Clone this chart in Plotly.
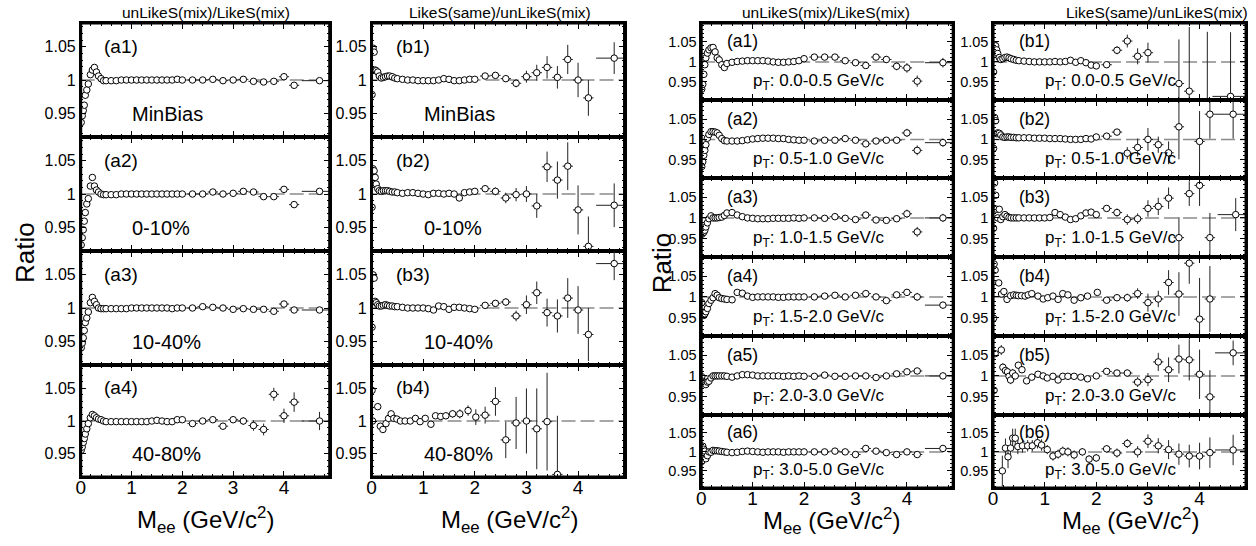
import plotly.graph_objects as go

W, H = 1256, 546
FONT = "Liberation Sans, Arial, sans-serif"

# ---------------- common mass binning (GeV/c^2) ----------------
X_LO = [0.01, 0.03, 0.05, 0.07, 0.09, 0.12, 0.15, 0.19, 0.23, 0.27, 0.31, 0.35, 0.40, 0.45]
X_MID = [0.5, 0.6, 0.7, 0.8, 0.9, 1.0, 1.1, 1.2, 1.3, 1.4, 1.5, 1.6, 1.7, 1.8, 1.9, 2.0]
X_HI = [2.2, 2.4, 2.6, 2.8, 3.0, 3.2, 3.4, 3.6, 3.8, 4.0, 4.2, 4.7]
MASS = X_LO + X_MID + X_HI

# ---------------- left group: centrality ----------------
CENT_LABELS = ["MinBias", "0-10%", "10-40%", "40-80%"]

L_A1 = [0.936, 0.946, 0.954, 0.962, 0.977, 0.985, 0.994, 1.008, 1.015, 1.019, 1.012, 1.006, 1.002, 0.999,
        0.999, 0.999, 0.999, 1.0, 1.0, 1.0, 1.0, 1.0, 1.0, 1.0, 1.0, 1.0, 1.0, 1.0, 1.001, 1.0,
        1.0, 1.0, 1.001, 0.999, 1.0, 1.001, 0.998, 0.997, 0.998, 1.005, 0.992, 0.999]
L_A1_ERR = [0.002, 0.002, 0.002, 0.002, 0.002, 0.002, 0.003, 0.003, 0.003, 0.004, 0.004, 0.003]

L_A2 = [0.923, 0.934, 0.946, 0.959, 0.972, 0.985, 0.993, 1.012, 1.025, 1.012, 1.006, 1.003, 1.0, 0.999,
        0.999, 0.999, 0.999, 1.0, 1.0, 1.0, 1.0, 1.0, 1.0, 1.0, 1.0, 1.0, 1.0, 1.0, 1.0, 1.0,
        1.0, 1.0, 1.003, 1.0, 1.001, 1.004, 1.003, 0.996, 0.996, 1.007, 0.984, 1.004]
L_A2_ERR = [0.002, 0.002, 0.002, 0.002, 0.002, 0.003, 0.003, 0.003, 0.003, 0.004, 0.004, 0.003]

L_A3 = [0.94, 0.947, 0.955, 0.966, 0.978, 0.985, 0.994, 1.008, 1.016, 1.01, 1.005, 1.0, 0.999, 0.999,
        0.999, 0.999, 0.999, 0.999, 0.999, 1.0, 1.0, 1.0, 1.0, 1.0, 1.0, 1.0, 1.0, 0.999, 1.0, 1.0,
        1.0, 1.002, 1.001, 1.0, 0.998, 0.999, 0.998, 0.998, 0.995, 1.006, 0.997, 0.997]
L_A3_ERR = [0.002, 0.002, 0.002, 0.002, 0.002, 0.002, 0.003, 0.003, 0.003, 0.004, 0.004, 0.003]

L_A4 = [0.955, 0.96, 0.967, 0.973, 0.98, 0.988, 0.996, 1.005, 1.01, 1.008, 1.005, 1.003, 1.002, 1.0,
        0.999, 0.999, 0.999, 0.999, 0.999, 0.999, 0.999, 0.999, 0.999, 1.0, 1.001, 1.0, 0.999, 0.999, 1.002, 1.002,
        0.996, 1.0, 1.002, 0.992, 1.002, 1.0, 0.993, 0.987, 1.041, 1.008, 1.029, 1.0]
L_A4_ERR = [0.003, 0.003, 0.004, 0.004, 0.005, 0.006, 0.008, 0.009, 0.01, 0.011, 0.015, 0.014]

L_B1 = [0.978, 1.048, 1.042, 1.015, 1.014, 1.012, 1.006, 1.003, 1.004, 1.005, 1.006, 1.006, 1.005, 1.003,
        1.002, 1.001, 1.0, 1.0, 0.999, 0.999, 0.999, 0.999, 1.0, 1.002, 1.001, 0.999, 0.999, 1.0, 1.001, 1.001,
        1.006, 1.007, 1.002, 0.995, 1.005, 1.011, 1.019, 1.004, 1.031, 1.0, 0.973, 1.033]
L_B1_ERR = [0.003, 0.004, 0.005, 0.006, 0.009, 0.012, 0.017, 0.017, 0.022, 0.026, 0.027, 0.024]

L_B2 = [0.98, 1.038, 1.035, 1.025, 1.015, 1.008, 1.005, 1.004, 1.005, 1.005, 1.005, 1.004, 1.003, 1.003,
        1.002, 1.001, 1.002, 1.002, 1.001, 1.0, 0.999, 1.001, 1.001, 1.0, 1.001, 1.0, 0.994, 1.002, 1.003, 1.004,
        1.008, 1.004, 0.994, 0.999, 1.0, 0.982, 1.041, 1.021, 1.042, 0.976, 0.921, 0.983]
L_B2_ERR = [0.005, 0.006, 0.008, 0.01, 0.012, 0.018, 0.023, 0.028, 0.036, 0.037, 0.045, 0.033]

L_B3 = [0.971, 1.05, 1.045, 1.01, 1.008, 1.005, 1.003, 1.003, 1.004, 1.005, 1.004, 1.003, 1.003, 1.002,
        1.002, 1.001, 1.0, 1.0, 1.0, 1.0, 0.999, 0.997, 1.003, 1.002, 0.998, 1.001, 1.001, 1.0, 0.999, 0.998,
        1.004, 1.007, 1.009, 0.988, 1.005, 1.023, 0.993, 0.988, 1.015, 0.997, 0.96, 1.067]
L_B3_ERR = [0.004, 0.005, 0.006, 0.008, 0.014, 0.017, 0.021, 0.025, 0.03, 0.036, 0.04, 0.025]

L_B4_X = [0.01, 0.02, 0.12, 0.17, 0.22, 0.28, 0.33, 0.38, 0.43, 0.49, 0.56, 0.65, 0.75, 0.85, 0.94, 1.04,
          1.15, 1.24, 1.34, 1.44, 1.57, 1.71, 1.87, 2.02, 2.2, 2.4, 2.6, 2.8, 3.0, 3.2, 3.4, 3.6]
L_B4 = [1.047, 1.0, 1.022, 0.992, 0.987, 0.996, 1.004, 1.011, 1.004, 1.003, 1.0, 1.0, 1.0, 1.004, 0.999, 1.004,
        0.995, 1.008, 1.007, 1.008, 1.011, 1.011, 1.016, 1.006, 1.009, 1.03, 0.971, 0.997, 1.0, 0.988, 0.999, 0.918]
L_B4_ERR = [0.003, 0.003, 0.003, 0.003, 0.003, 0.003, 0.003, 0.003, 0.003, 0.003, 0.003, 0.003, 0.003, 0.003,
            0.003, 0.003, 0.003, 0.003, 0.004, 0.005, 0.006, 0.007, 0.008, 0.012, 0.013, 0.022, 0.028, 0.04,
            0.05, 0.062, 0.075, 0.09]

# ---------------- right group: pT bins ----------------
PT_BINS = ["0.0-0.5", "0.5-1.0", "1.0-1.5", "1.5-2.0", "2.0-3.0", "3.0-5.0"]

R_A1 = [0.932, 0.944, 0.969, 0.993, 1.01, 1.022, 1.03, 1.035, 1.036, 1.025, 1.01, 1.005, 0.993, 0.986,
        0.996, 0.999, 1.001, 1.002, 1.003, 1.003, 1.003, 1.003, 1.002, 1.0, 0.999, 0.999, 1.0, 1.001, 1.003, 1.008,
        1.012, 1.012, 1.012, 1.003, 0.998, 0.991, 1.012, 1.006, 0.989, 0.985, 0.952, 0.998]
R_A1_ERR = [0.003, 0.003, 0.004, 0.004, 0.004, 0.005, 0.007, 0.009, 0.01, 0.012, 0.014, 0.012]

R_A2 = [0.933, 0.945, 0.961, 0.973, 0.987, 1.003, 1.012, 1.019, 1.019, 1.018, 1.016, 1.01, 1.002, 0.997,
        0.996, 0.996, 0.996, 0.997, 0.999, 1.001, 1.002, 1.003, 1.003, 1.003, 1.002, 1.002, 1.0, 0.999, 0.998, 0.998,
        0.996, 0.998, 0.998, 1.002, 0.998, 0.989, 0.996, 0.998, 0.998, 1.016, 0.973, 0.992]
R_A2_ERR = [0.003, 0.003, 0.004, 0.004, 0.004, 0.005, 0.006, 0.007, 0.008, 0.01, 0.012, 0.01]

R_A3 = [0.96, 0.963, 0.965, 0.97, 0.978, 0.988, 0.998, 1.005, 1.0, 1.0, 1.0, 1.001, 1.002, 1.006,
        1.012, 1.013, 1.007, 1.003, 1.0, 0.999, 0.998, 0.998, 0.998, 0.999, 0.999, 0.999, 0.999, 1.0, 0.999, 1.0,
        1.0, 0.999, 1.003, 0.999, 0.996, 1.007, 0.995, 0.994, 0.998, 1.01, 0.966, 1.0]
R_A3_ERR = [0.003, 0.003, 0.004, 0.004, 0.004, 0.005, 0.006, 0.007, 0.008, 0.01, 0.012, 0.01]

R_A4 = [0.986, 0.962, 0.955, 0.959, 0.964, 0.972, 0.984, 0.992, 0.998, 1.008, 1.004, 0.998, 0.996, 0.995,
        0.994, 0.993, 1.011, 1.009, 1.002, 0.999, 1.0, 1.0, 1.0, 1.0, 0.999, 0.999, 1.0, 1.0, 1.0, 1.0,
        1.0, 1.002, 1.004, 1.0, 1.004, 1.008, 1.0, 0.991, 1.005, 1.011, 1.0, 0.98]
R_A4_ERR = [0.003, 0.003, 0.003, 0.004, 0.004, 0.004, 0.005, 0.006, 0.006, 0.008, 0.01, 0.008]

R_A5 = [0.998, 0.987, 0.983, 0.984, 0.979, 0.985, 0.987, 0.995, 1.0, 1.0, 1.0, 1.0, 1.0, 1.0,
        0.999, 0.997, 1.0, 1.003, 1.003, 1.002, 1.0, 1.0, 1.0, 1.0, 1.0, 0.999, 1.0, 0.999, 1.0, 0.999,
        0.999, 1.002, 0.999, 0.999, 1.0, 1.0, 0.996, 1.0, 1.005, 1.01, 1.012, 1.0]
R_A5_ERR = [0.003, 0.003, 0.003, 0.003, 0.004, 0.004, 0.004, 0.005, 0.005, 0.006, 0.007, 0.006]

R_A6 = [0.975, 1.015, 1.007, 1.002, 0.982, 0.99, 1.0, 0.999, 1.004, 1.003, 1.003, 1.002, 1.001, 1.0,
        0.999, 0.998, 0.999, 1.001, 1.002, 1.001, 1.0, 0.999, 1.0, 1.0, 1.0, 0.999, 1.0, 1.0, 1.0, 1.0,
        1.0, 1.0, 1.002, 1.0, 0.993, 1.009, 1.002, 0.998, 0.993, 1.0, 0.993, 1.009]
R_A6_ERR = [0.003, 0.003, 0.003, 0.003, 0.004, 0.004, 0.004, 0.005, 0.005, 0.006, 0.007, 0.006]

R_B1_XHI = [2.2, 2.4, 2.6, 2.8, 3.0, 3.6, 3.8, 4.15, 4.6]
R_B1 = [0.975, 1.042, 1.04, 1.03, 1.021, 1.011, 1.006, 1.008, 1.011, 1.012, 1.01, 1.008, 1.006, 1.004,
        1.003, 1.002, 1.001, 1.0, 1.0, 1.0, 1.0, 1.001, 1.0, 1.001, 1.004, 0.999, 1.003, 0.998, 0.992, 0.99,
        0.993, 1.029, 1.052, 1.014, 1.023, 0.946, 0.927, 0.85, 0.914]
R_B1_ERR = [0.005, 0.01, 0.016, 0.02, 0.025, 0.11, 0.16, 0.225, 0.16]

R_B2_XHI = [2.2, 2.4, 2.6, 2.8, 3.0, 3.2, 3.4, 3.6, 4.0, 4.2, 4.65]
R_B2 = [0.978, 1.054, 1.046, 1.014, 1.016, 1.015, 1.011, 1.006, 1.005, 1.006, 1.006, 1.005, 1.005, 1.004,
        1.004, 1.004, 1.004, 1.003, 1.003, 1.003, 1.002, 1.002, 1.002, 1.001, 1.0, 1.0, 1.0, 1.002, 1.001, 1.006,
        1.008, 1.018, 0.966, 0.98, 1.0, 0.987, 0.967, 1.031, 0.995, 1.062, 1.062]
R_B2_ERR = [0.005, 0.007, 0.015, 0.022, 0.028, 0.02, 0.028, 0.08, 0.075, 0.06, 0.06]

R_B3 = [0.975, 1.085, 1.055, 1.021, 1.0, 1.021, 0.996, 1.003, 1.008, 1.004, 1.001, 1.0, 1.0, 1.0,
        1.0, 1.0, 1.0, 1.0, 1.0, 1.0, 1.001, 1.013, 1.008, 1.002, 0.996, 0.998, 1.005, 1.012, 1.014, 1.008,
        1.023, 1.013, 0.996, 0.998, 1.023, 1.028, 1.048, 0.952, 1.059, 1.079, 0.952, 1.008]
R_B3_ERR = [0.006, 0.01, 0.013, 0.013, 0.02, 0.021, 0.026, 0.05, 0.03, 0.05, 0.06, 0.04]

R_B4_X = [0.01, 0.02, 0.04, 0.11, 0.165, 0.21, 0.27, 0.34, 0.4, 0.45, 0.49, 0.55, 0.62, 0.68, 0.75, 0.87,
          0.97, 1.06, 1.16, 1.26, 1.35, 1.45, 1.57, 1.7, 1.83, 2.02,
          2.2, 2.4, 2.6, 2.8, 3.0, 3.2, 3.4, 3.6, 3.8, 4.0, 4.2]
R_B4 = [0.948, 1.08, 1.065, 1.034, 1.007, 1.013, 0.994, 1.003, 1.005, 1.004, 1.003, 1.003, 1.002, 1.005,
        1.008, 1.002, 0.995, 0.998, 1.002, 0.994, 1.008, 1.005, 0.992, 0.998, 1.002, 1.011,
        0.992, 0.998, 0.998, 1.008, 0.986, 0.995, 1.035, 1.007, 1.082, 0.946, 0.995]
R_B4_ERR = [0.004, 0.004, 0.004, 0.004, 0.004, 0.004, 0.004, 0.004, 0.004, 0.004, 0.004, 0.004, 0.004,
            0.004, 0.004, 0.004, 0.004, 0.004, 0.004, 0.004, 0.004, 0.004, 0.004, 0.004, 0.004, 0.005,
            0.006, 0.008, 0.01, 0.013, 0.022, 0.02, 0.03, 0.053, 0.05, 0.1, 0.08]

R_B5_X = [0.02, 0.04, 0.16, 0.19, 0.24, 0.28, 0.31, 0.34, 0.38, 0.43, 0.49, 0.56, 0.65, 0.75, 0.87, 0.97,
          1.05, 1.16, 1.26, 1.35, 1.45, 1.57, 1.7, 1.83, 2.0,
          2.2, 2.4, 2.6, 2.8, 3.0, 3.2, 3.4, 3.6, 3.8, 4.0, 4.2, 4.65]
R_B5 = [0.965, 1.054, 1.063, 1.021, 1.013, 1.01, 0.999, 0.99, 1.007, 1.0, 1.026, 1.015, 0.988, 0.997,
        1.004, 1.0, 0.995, 0.999, 0.99, 0.999, 0.999, 0.999, 0.997, 0.993, 1.0,
        1.011, 1.007, 1.007, 0.985, 0.991, 1.034, 1.015, 1.041, 1.039, 1.004, 0.949, 1.056]
R_B5_ERR = [0.005, 0.005, 0.012, 0.01, 0.01, 0.01, 0.01, 0.01, 0.01, 0.008, 0.008, 0.006, 0.005, 0.004,
            0.004, 0.004, 0.004, 0.004, 0.004, 0.004, 0.004, 0.004, 0.004, 0.004, 0.004,
            0.005, 0.006, 0.008, 0.012, 0.016, 0.022, 0.03, 0.035, 0.05, 0.06, 0.065, 0.03]

R_B6_X = [0.18, 0.24, 0.29, 0.34, 0.38, 0.43, 0.48, 0.57, 0.67, 0.76, 0.86, 0.94, 1.05, 1.16, 1.26, 1.35,
          1.45, 1.57, 1.73, 1.86, 2.0, 2.2, 2.4, 2.6, 2.8, 3.0, 3.2, 3.4, 3.6, 3.8, 4.0, 4.2, 4.65]
R_B6 = [0.95, 1.01, 0.987, 1.01, 1.036, 1.036, 1.014, 1.016, 1.016, 1.016, 1.024, 1.018, 1.006, 0.989,
        0.994, 1.002, 1.0, 0.992, 1.0, 0.981, 0.984, 1.008, 0.997, 1.022, 1.0, 1.028, 1.016, 1.006, 0.994,
        0.989, 0.989, 0.998, 1.005]
R_B6_ERR = [0.04, 0.025, 0.03, 0.025, 0.025, 0.025, 0.02, 0.018, 0.015, 0.015, 0.015, 0.015, 0.012, 0.012,
            0.012, 0.012, 0.012, 0.012, 0.01, 0.01, 0.01, 0.01, 0.012, 0.012, 0.015, 0.018, 0.02, 0.025,
            0.028, 0.03, 0.035, 0.04, 0.04]

# ---------------- helpers ----------------
X_RANGE = [0, 4.9]
LEFT_YR = [0.914, 1.086]
RIGHT_YR = [0.905, 1.097]
LEFT_COLS = [(76, 326), (368, 622)]
LEFT_ROWS = [(23, 137), (137, 251), (251, 365), (365, 477)]
RIGHT_COLS = [(699, 952), (992, 1246)]
RIGHT_ROWS = [(23, 100), (100, 178), (178, 257), (257, 336), (336, 415), (415, 488)]
AX_LW = 1.5


def half_width(x):
    if x > 4.4:
        return 0.35
    if x > 2.1:
        return 0.1
    if x >= 1.3:
        return 0.05
    return 0.02


def std_err(hi_err, n_low):
    return [0.002] * n_low + list(hi_err)


def panel(x, y, ey, cols, rows, ci, ri, yr, label, sub, bottom, group):
    return dict(x=x, y=y, ey=ey, col=cols[ci], row=rows[ri], yr=yr, label=label,
                sub=sub, bottom=bottom, group=group)


n_std_low = len(X_LO) + len(X_MID)
panels = []
L_A = [(L_A1, L_A1_ERR), (L_A2, L_A2_ERR), (L_A3, L_A3_ERR), (L_A4, L_A4_ERR)]
for i, (vals, err) in enumerate(L_A):
    panels.append(panel(MASS, vals, std_err(err, n_std_low), LEFT_COLS, LEFT_ROWS, 0, i, LEFT_YR,
                        "(a%d)" % (i + 1), CENT_LABELS[i], i == 3, "L"))
L_B = [(MASS, L_B1, std_err(L_B1_ERR, n_std_low)), (MASS, L_B2, std_err(L_B2_ERR, n_std_low)),
       (MASS, L_B3, std_err(L_B3_ERR, n_std_low)), (L_B4_X, L_B4, L_B4_ERR)]
for i, (xx, vals, err) in enumerate(L_B):
    panels.append(panel(xx, vals, err, LEFT_COLS, LEFT_ROWS, 1, i, LEFT_YR,
                        "(b%d)" % (i + 1), CENT_LABELS[i], i == 3, "L"))
R_A = [(R_A1, R_A1_ERR), (R_A2, R_A2_ERR), (R_A3, R_A3_ERR), (R_A4, R_A4_ERR), (R_A5, R_A5_ERR),
       (R_A6, R_A6_ERR)]
for i, (vals, err) in enumerate(R_A):
    panels.append(panel(MASS, vals, std_err(err, n_std_low), RIGHT_COLS, RIGHT_ROWS, 0, i, RIGHT_YR,
                        "(a%d)" % (i + 1), "p<sub>T</sub>: %s GeV/c" % PT_BINS[i], i == 5, "R"))
R_B = [(X_LO + X_MID + R_B1_XHI, R_B1, std_err(R_B1_ERR, n_std_low)),
       (X_LO + X_MID + R_B2_XHI, R_B2, std_err(R_B2_ERR, n_std_low)),
       (MASS, R_B3, std_err(R_B3_ERR, n_std_low)),
       (R_B4_X, R_B4, R_B4_ERR), (R_B5_X, R_B5, R_B5_ERR), (R_B6_X, R_B6, R_B6_ERR)]
for i, (xx, vals, err) in enumerate(R_B):
    panels.append(panel(xx, vals, err, RIGHT_COLS, RIGHT_ROWS, 1, i, RIGHT_YR,
                        "(b%d)" % (i + 1), "p<sub>T</sub>: %s GeV/c" % PT_BINS[i], i == 5, "R"))

fig = go.Figure()
layout = {}
shapes = []
annotations = []

for k, p in enumerate(panels, start=1):
    sx = "" if k == 1 else str(k)
    xa, ya = "x" + sx, "y" + sx
    x0, x1 = p["col"]
    t, b = p["row"]
    big = p["group"] == "L"
    fig.add_trace(go.Scatter(
        x=p["x"], y=p["y"], xaxis=xa, yaxis=ya, mode="markers", showlegend=False,
        marker=dict(symbol="circle", size=6.5, color="white", line=dict(color="black", width=1)),
        error_y=dict(type="data", array=p["ey"], color="#222", thickness=1, width=0),
        error_x=dict(type="data", array=[half_width(v) for v in p["x"]], color="#222", thickness=1, width=0),
    ))
    common = dict(showline=True, linewidth=AX_LW, linecolor="black", mirror="ticks", ticks="inside",
                  tickcolor="black", tickwidth=1, showgrid=False, zeroline=False)
    layout["xaxis" + sx] = dict(
        domain=[x0 / W, x1 / W], anchor=ya, range=X_RANGE, tick0=0, dtick=1, ticklen=6,
        minor=dict(ticks="inside", ticklen=3, dtick=0.2, tickcolor="black", tickwidth=1),
        showticklabels=p["bottom"], ticklabelstandoff=-8,
        tickfont=dict(family=FONT, size=19, color="black"), **common)
    layout["yaxis" + sx] = dict(
        domain=[1 - b / H, 1 - t / H], anchor=xa, range=p["yr"], tick0=0.95, dtick=0.05, ticklen=6,
        minor=dict(ticks="inside", ticklen=3, dtick=0.01, tickcolor="black", tickwidth=1),
        tickfont=dict(family=FONT, size=16 if big else 14.5, color="black"), **common)
    shapes.append(dict(type="line", xref=xa, yref=ya, x0=X_RANGE[0], x1=X_RANGE[1], y0=1, y1=1,
                       layer="below", line=dict(color="#8a8a8a", width=1.5, dash="14px,5px")))
    annotations.append(dict(xref=xa, yref=ya, x=0.8, y=1.051, text=p["label"], showarrow=False,
                            xanchor="center", yanchor="middle",
                            font=dict(family=FONT, size=19 if big else 17.5, color="black")))
    annotations.append(dict(xref=xa, yref=ya, x=0.98 if big else 0.97, y=0.949, text=p["sub"],
                            showarrow=False, xanchor="left", yanchor="middle",
                            font=dict(family=FONT, size=20 if big else 17, color="black")))

# thick outer frame of each column of panels
for cols, rows in [(LEFT_COLS, LEFT_ROWS), (RIGHT_COLS, RIGHT_ROWS)]:
    for (cx0, cx1) in cols:
        shapes.append(dict(type="rect", xref="paper", yref="paper", x0=cx0 / W, x1=cx1 / W,
                           y0=1 - rows[-1][1] / H, y1=1 - rows[0][0] / H,
                           line=dict(color="black", width=3), layer="above"))

# column titles
for txt, xc in [("unLikeS(mix)/LikeS(mix)", 202), ("LikeS(same)/unLikeS(mix)", 497),
                ("unLikeS(mix)/LikeS(mix)", 824), ("LikeS(same)/unLikeS(mix)", 1157)]:
    annotations.append(dict(xref="paper", yref="paper", x=xc / W, y=1 - 12 / H, text=txt, showarrow=False,
                            xanchor="center", yanchor="middle", font=dict(family=FONT, size=15.5, color="black")))
# x titles
for xc, yc in [(201, 520), (507, 520), (830, 521), (1130, 521)]:
    annotations.append(dict(xref="paper", yref="paper", x=xc / W, y=1 - yc / H,
                            text="M<sub>ee</sub> (GeV/c<sup>2</sup>)", showarrow=False,
                            xanchor="center", yanchor="middle", font=dict(family=FONT, size=24, color="black")))
# y titles
for xc, yc in [(20, 252), (660, 263)]:
    annotations.append(dict(xref="paper", yref="paper", x=xc / W, y=1 - yc / H, text="Ratio", textangle=-90,
                            showarrow=False, xanchor="center", yanchor="middle",
                            font=dict(family=FONT, size=26, color="black")))

fig.update_layout(width=W, height=H, margin=dict(l=0, r=0, t=0, b=0), paper_bgcolor="white",
                  plot_bgcolor="white", shapes=shapes, annotations=annotations, **layout)
fig.write_html("out.html", config={"displayModeBar": False},
               post_script="document.body.style.margin='0';document.body.style.overflow='hidden';")
